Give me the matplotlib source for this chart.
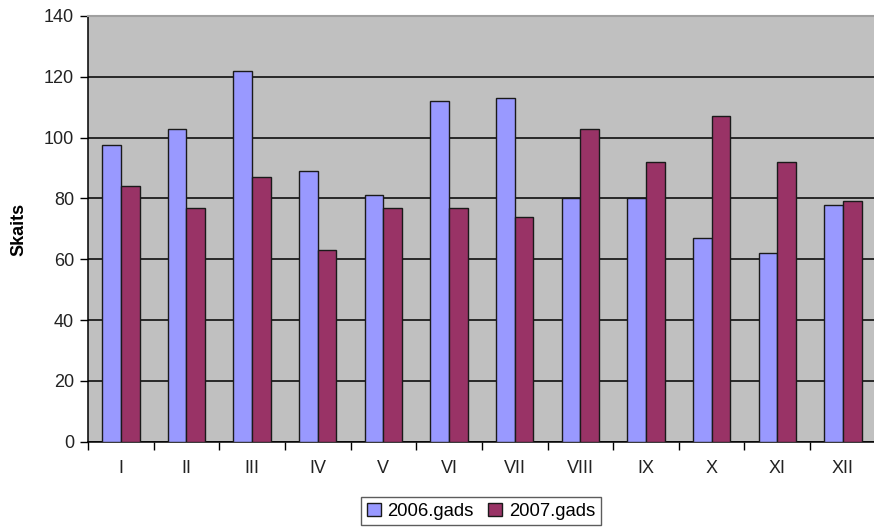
import matplotlib
matplotlib.use("Agg")
import matplotlib.pyplot as plt
import numpy as np

plt.rcParams['font.family'] = ['Liberation Sans', 'DejaVu Sans']

months = ["I", "II", "III", "IV", "V", "VI", "VII", "VIII", "IX", "X", "XI", "XII"]
gads_2006 = [97.5, 103, 122, 89, 81, 112, 113, 80, 80, 67, 62, 78]
gads_2007 = [84, 77, 87, 63, 77, 77, 74, 103, 92, 107, 92, 79]
series_labels = ["2006.gads", "2007.gads"]
y_ticks = [0, 20, 40, 60, 80, 100, 120, 140]

fig = plt.figure(figsize=(8.74, 5.29), dpi=100)
ax = fig.add_axes([88 / 874, 1 - 441.7 / 529, 1 - 88 / 874 + 0.002, (441.7 - 16) / 529])
ax.set_facecolor("#C0C0C0")

x = np.arange(len(months))
w = 0.285
ax.bar(x - w / 2, gads_2006, width=w, color="#9999FF", edgecolor="#1a1a1a",
       linewidth=1, label=series_labels[0], zorder=3)
ax.bar(x + w / 2, gads_2007, width=w, color="#993366", edgecolor="#1a1a1a",
       linewidth=1, label=series_labels[1], zorder=3)

ax.set_xlim(-0.5, len(months) - 0.5)
ax.set_ylim(0, 140)
ax.set_yticks(y_ticks)
ax.yaxis.grid(True, color="black", linewidth=1.1, zorder=1)
ax.set_axisbelow(True)

ax.set_xticks(x)
ax.set_xticklabels(months)
ax.set_xticks(np.arange(len(months) + 1) - 0.5, minor=True)
ax.tick_params(axis="x", which="major", length=0, pad=13, labelsize=13, colors="#222222")
ax.tick_params(axis="x", which="minor", length=6, width=1, color="black", direction="out")
ax.tick_params(axis="y", length=6, width=1, color="black", labelsize=13, labelcolor="#222222", pad=4)

for side in ("left", "bottom"):
    ax.spines[side].set_color("black")
    ax.spines[side].set_linewidth(1.1)
ax.spines["top"].set_color("#a0a0a0")
ax.spines["top"].set_linewidth(1.5)
ax.spines["right"].set_visible(False)

fig.text(19 / 874, 1 - 229 / 529, "Skaits", rotation=90, fontsize=13,
         fontweight="bold", ha="center", va="center")

leg = fig.legend(loc="upper center", bbox_to_anchor=(481 / 874, 1 - 497 / 529),
                 ncol=2, fontsize=13.3, frameon=True, fancybox=False,
                 edgecolor="#333333", handlelength=0.75, handleheight=0.75,
                 handletextpad=0.35, columnspacing=0.8, borderpad=0.3,
                 borderaxespad=0)
leg.get_frame().set_linewidth(1.0)

fig.savefig("out.png", dpi=100, facecolor="white")
